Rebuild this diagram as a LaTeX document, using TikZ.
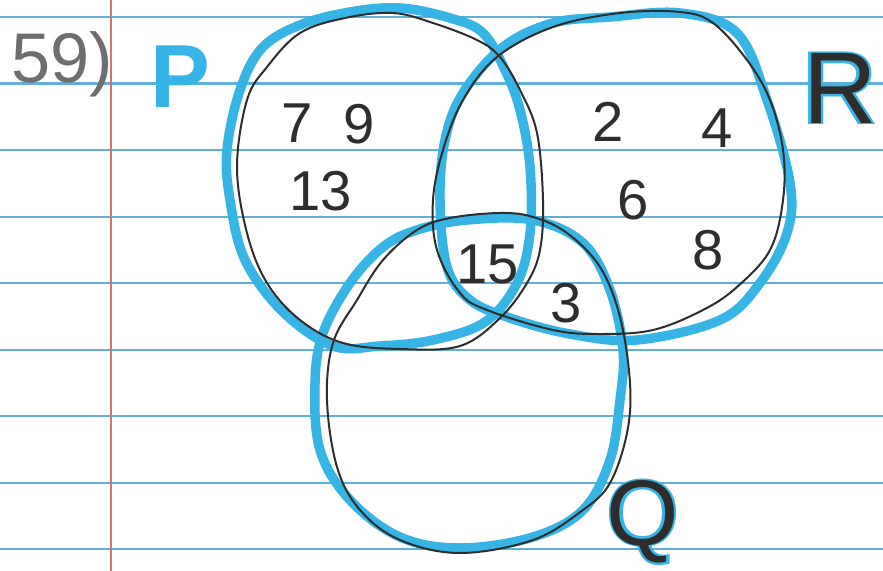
\documentclass[tikz,border=0pt]{standalone}
\usepackage{fontspec}
\setmainfont{Liberation Sans}
\definecolor{marker}{RGB}{55,180,230}
\definecolor{ruled}{RGB}{95,175,215}
\definecolor{margin}{RGB}{205,120,120}
\definecolor{pen}{RGB}{45,45,45}
\definecolor{pencil}{RGB}{110,110,110}
\tikzset{
  ruledline/.style={draw=ruled, line width=0.045cm},
  bluering/.style={draw=marker, line width=0.19cm, line cap=round, line join=round},
  blackring/.style={draw=pen, line width=0.04cm, line cap=round, line join=round},
  digit/.style={inner sep=0pt, text=pen, font=\fontsize{32}{32}\selectfont},
  setlabel/.style={inner sep=0pt, text=marker, font=\fontsize{#1}{#1}\selectfont\bfseries},
  penlabel/.style={inner sep=0pt, text=pen, font=\fontsize{#1}{#1}\selectfont}
}
\begin{document}
\begin{tikzpicture}[x=0.02cm,y=-0.02cm]
\fill[white] (0,0) rectangle (883,571);
\useasboundingbox (0,0) rectangle (883,571);
% ruled paper
\foreach \yy in {17,83.5,150,217,283,350,416,483,549}
  \draw[ruledline] (0,\yy) -- (883,\yy);
\draw[margin, line width=0.035cm] (111,0) -- (111,571);
% blue marker rings
\draw[bluering] plot[smooth cycle, tension=0.6] coordinates {(400,8) (450,18) (483,33) (505,70) (520,110) (530,167) (530,233) (517,283) (485,322) (433,340) (380,346) (333,346) (283,312) (245,260) (230,200) (227,150) (240,90) (262,48) (300,25) (350,12)};
\draw[bluering] plot[smooth cycle, tension=0.6] coordinates {(610,17) (680,13) (737,33) (767,100) (790,183) (787,233) (760,283) (720,320) (637,340) (570,334) (510,318) (470,300) (447,267) (440,200) (445,140) (463,93) (503,47) (553,23)};
\draw[bluering] plot[smooth cycle, tension=0.6] coordinates {(467,220) (533,220) (583,243) (610,290) (623,350) (620,400) (610,460) (583,510) (533,537) (460,548) (400,537) (350,500) (320,450) (315,383) (323,333) (350,283) (383,247) (417,230)};
% black pen rings
\draw[blackring] plot[smooth cycle, tension=0.6] coordinates {(393,13) (433,23) (477,40) (500,57) (520,90) (537,133) (543,200) (540,250) (527,283) (500,318) (460,346) (400,349) (343,343) (300,320) (267,283) (247,233) (237,167) (247,100) (267,67) (300,33) (345,18)};
\draw[blackring] plot[smooth cycle, tension=0.6] coordinates {(620,13) (680,12) (713,23) (747,60) (770,100) (783,150) (783,200) (770,250) (737,287) (703,310) (653,330) (600,334) (553,330) (487,310) (460,293) (437,250) (433,200) (443,150) (463,100) (497,57) (553,27)};
\draw[blackring] plot[smooth cycle, tension=0.6] coordinates {(500,213) (533,217) (567,233) (600,267) (620,317) (630,383) (627,433) (610,483) (583,510) (533,540) (460,553) (400,540) (360,510) (337,467) (327,400) (333,343) (357,300) (383,260) (417,230) (450,218)};
% labels
\node[inner sep=0pt, anchor=base west, text=pencil, font=\fontsize{40}{40}\selectfont] (num) at (11,83) {59)};
\node[setlabel=51] (P) at (180,77) {P};
\node[setlabel=60] (Rb) at (840,88) {R};
\node[penlabel=58] (R) at (840,88) {R};
\node[setlabel=55] (Qb) at (643,522) {Q};
\node[penlabel=53] (Q) at (643,522) {Q};
% elements
\node[digit] (n7) at (297,123) {7};
\node[digit] (n9) at (359,124) {9};
\node[digit] (n13) at (321,191) {13};
\node[digit] (n2) at (608,122) {2};
\node[digit] (n4) at (717,128) {4};
\node[digit] (n6) at (633,200) {6};
\node[digit] (n8) at (708,250) {8};
\node[digit] (n15) at (488,264) {15};
\node[digit] (n3) at (566,303) {3};
\end{tikzpicture}
\end{document}
